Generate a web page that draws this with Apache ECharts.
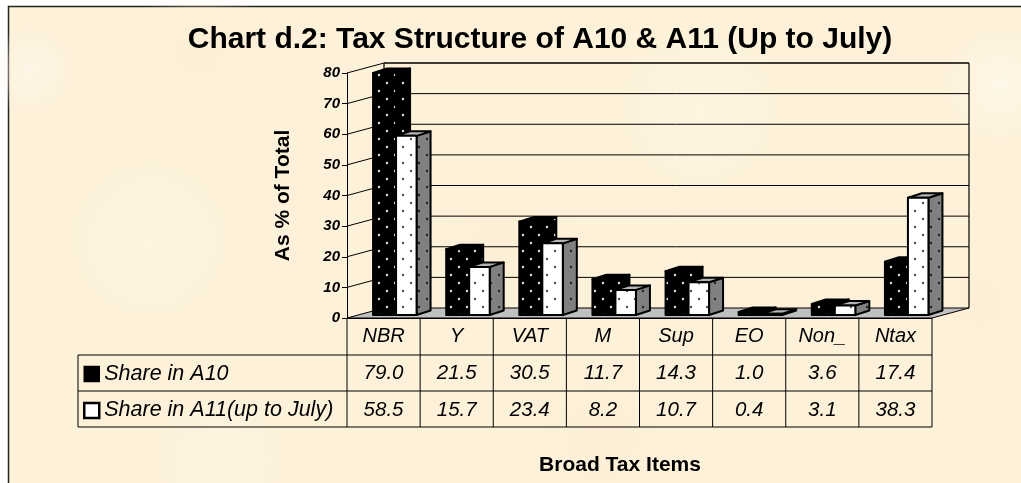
<!DOCTYPE html>
<html><head><meta charset="utf-8">
<style>html,body{margin:0;padding:0;background:#fff}#c{width:1021px;height:483px}</style>
<script src="https://cdn.jsdelivr.net/npm/echarts@6/dist/echarts.min.js"></script>
</head><body><div id="c"></div>
<script>
const categories = ['NBR','Y','VAT','M','Sup','EO','Non_','Ntax'];
const shareA10 = [79.0,21.5,30.5,11.7,14.3,1.0,3.6,17.4];
const shareA11 = [58.5,15.7,23.4,8.2,10.7,0.4,3.1,38.3];
const yTicks = [0,10,20,30,40,50,60,70,80];
const nameA10 = 'Share in A10';
const nameA11 = 'Share in A11(up to July)';

const FONT = '"Liberation Sans", Arial, sans-serif';
function dots(bg, dot) {
  const c = document.createElement('canvas'); c.width = 16; c.height = 16;
  const g = c.getContext('2d');
  g.fillStyle = bg; g.fillRect(0,0,16,16);
  g.fillStyle = dot;
  [[3,3],[11,11]].forEach(p => { g.beginPath(); g.arc(p[0],p[1],1.2,0,Math.PI*2); g.fill(); });
  return {image:c, repeat:'repeat'};
}
const patBlack = dots('#000','#e0e0e0'), patWhite = dots('#fff','#555'), patGray = dots('#808080','#222');

const DX=37, DY=-10;   // wall depth
function blotch(x,y,r,col){return {type:'circle',silent:true,z:-9,shape:{cx:x,cy:y,r:r},style:{fill:{type:'radial',x:.5,y:.5,r:.5,colorStops:[{offset:0,color:col},{offset:1,color:col.replace(/[\d.]+\)$/,'0)')}]}}};}
const chart = echarts.init(document.getElementById('c'),null,{renderer:'canvas'});

function barItem(kind){
  return function(params, api){
    const i=api.value(0), v=api.value(1);
    const cx=api.coord([i,0])[0], base=api.coord([i,0])[1]-3, top=api.coord([i,v])[1]-3;
    const x1= kind===0? cx-10.5 : cx+12.5, x2= kind===0? cx+12.5 : cx+33, sx=14, sy=-4.5;
    const st=f=>({fill:f,stroke:'#000',lineWidth:2,lineJoin:'round'});
    return {type:'group',children:[
      {type:'polygon',shape:{points:[[x2,top],[x2+sx,top+sy],[x2+sx,base+sy],[x2,base]]},style:st(kind===0?patBlack:patGray)},
      {type:'polygon',shape:{points:[[x1,top],[x1+sx,top+sy],[x2+sx,top+sy],[x2,top]]},style:st(kind===0?'#000':'#b5b5b5')},
      {type:'rect',shape:{x:x1,y:top,width:x2-x1,height:base-top},style:st(kind===0?patBlack:patWhite)}
    ]};
  };
}
function frameItem(params, api){
  const cs=params.coordSys, v=api.value(0), y=api.coord([0,v])[1];
  const L=cs.x, R=cs.x+cs.width, ch=[];
  const line=(a,b,c,d,w)=>({type:'line',shape:{x1:a,y1:b,x2:c,y2:d},style:{stroke:'#000',lineWidth:w||1}});
  if(v===0){
    ch.push({type:'polygon',shape:{points:[[L,y],[R,y],[R+DX,y+DY],[L+DX,y+DY]]},style:{fill:'#c0c0c0',stroke:'#000',lineWidth:1}});
    ch.push(line(L+DX,y+DY,L+DX,api.coord([0,80])[1]+DY,1.2));
    ch.push(line(R+DX,y+DY,R+DX,api.coord([0,80])[1]+DY,1.2));
  } else {
    ch.push(line(L,y,L+DX,y+DY,1));
    ch.push(line(L+DX,y+DY,R+DX,y+DY,v===80?1.6:1));
  }
  return {type:'group',children:ch};
}
const rowY=[373,410], tableBottom=427;
function tableItem(params, api){
  const i=api.value(0), c=api.coord([i,0]), w=api.size([1,0])[0];
  const vline=x=>({type:'line',shape:{x1:x,y1:c[1],x2:x,y2:tableBottom},style:{stroke:'#000',lineWidth:1}});
  const txt=(t,y)=>({type:'text',style:{text:t,x:c[0],y:y,align:'center',verticalAlign:'middle',font:'italic 20.5px '+FONT,fill:'#000'}});
  const ch=[vline(c[0]-w/2),txt(api.value(1).toFixed(1),rowY[0]),txt(api.value(2).toFixed(1),rowY[1])];
  if(i===categories.length-1) ch.push(vline(c[0]+w/2));
  return {type:'group',children:ch};
}
const hline=(y,x1)=>({type:'line',silent:true,z:1,shape:{x1:x1,y1:y,x2:932,y2:y},style:{stroke:'#000',lineWidth:1}});

chart.setOption({
  animation:false,
  backgroundColor:'#fff',
  title:{text:'Chart d.2: Tax Structure of A10 & A11 (Up to July)',left:535,top:20,textAlign:'center',
    textStyle:{fontFamily:FONT,fontWeight:'bold',fontSize:30,color:'#000'}},
  grid:{left:347,top:73,width:585,height:245,containLabel:false},
  graphic:{elements:[
    {type:'rect',silent:true,z:-10,shape:{x:8.5,y:6.5,width:1030,height:490},style:{fill:'#fdf1d9',stroke:'#222',lineWidth:1.5}},
    blotch(1000,85,60,'rgba(255,248,235,.8)'),blotch(30,70,45,'rgba(255,246,236,.7)'),blotch(200,50,70,'rgba(252,238,210,.5)'),
    blotch(700,110,90,'rgba(255,247,228,.6)'),blotch(500,240,80,'rgba(252,238,212,.5)'),blotch(980,300,70,'rgba(252,238,210,.5)'),
    blotch(150,240,90,'rgba(255,247,228,.6)'),blotch(600,440,110,'rgba(252,238,212,.5)'),blotch(220,460,80,'rgba(255,246,228,.5)'),
    hline(355,78),hline(391,78),hline(427,78),
    {type:'line',silent:true,shape:{x1:78,y1:355,x2:78,y2:427},style:{stroke:'#000',lineWidth:1}}
  ]},
  legend:{orient:'vertical',left:83,top:363,padding:0,itemWidth:15,itemHeight:15,itemGap:14.5,selectedMode:false,
    textStyle:{fontFamily:FONT,fontStyle:'italic',fontSize:21.5,lineHeight:21.5,color:'#000'},
    data:[{name:nameA10,icon:'rect',itemStyle:{color:'#000',borderColor:'#000',borderWidth:1.5}},
          {name:nameA11,icon:'rect',itemStyle:{color:'#fff',borderColor:'#000',borderWidth:2.5}}]},
  xAxis:{type:'category',data:categories,name:'Broad Tax Items',nameLocation:'middle',nameGap:147,
    nameTextStyle:{fontFamily:FONT,fontWeight:'bold',fontSize:21,color:'#000',align:'center',verticalAlign:'middle',padding:[0,39,0,0]},
    axisLine:{lineStyle:{color:'#000',width:1}},axisTick:{show:false},
    axisLabel:{margin:8,fontFamily:FONT,fontStyle:'italic',fontSize:20,color:'#000',interval:0}},
  yAxis:{type:'value',min:0,max:80,interval:10,name:'As % of Total',nameLocation:'middle',nameGap:53,
    nameTextStyle:{fontFamily:FONT,fontWeight:'bold',fontSize:21,color:'#000'},
    axisLine:{show:true,lineStyle:{color:'#000',width:1}},axisTick:{show:true,length:5,lineStyle:{color:'#000'}},splitLine:{show:false},
    axisLabel:{margin:7,fontFamily:FONT,fontStyle:'italic',fontWeight:'bold',fontSize:15,color:'#000'}},
  series:[
    {type:'custom',name:'frame',silent:true,z:1,renderItem:frameItem,data:yTicks.map(v=>[v]),encode:{y:0}},
    {type:'custom',name:'table',silent:true,z:1,renderItem:tableItem,data:categories.map((c,i)=>[i,shareA10[i],shareA11[i]]),encode:{x:0}},
    {type:'custom',name:nameA10,silent:true,z:2,renderItem:barItem(0),data:categories.map((c,i)=>[i,shareA10[i]]),encode:{x:0,y:1},itemStyle:{color:'#000'}},
    {type:'custom',name:nameA11,silent:true,z:3,renderItem:barItem(1),data:categories.map((c,i)=>[i,shareA11[i]]),encode:{x:0,y:1},itemStyle:{color:'#fff'}}
  ]
});
</script></body></html>
